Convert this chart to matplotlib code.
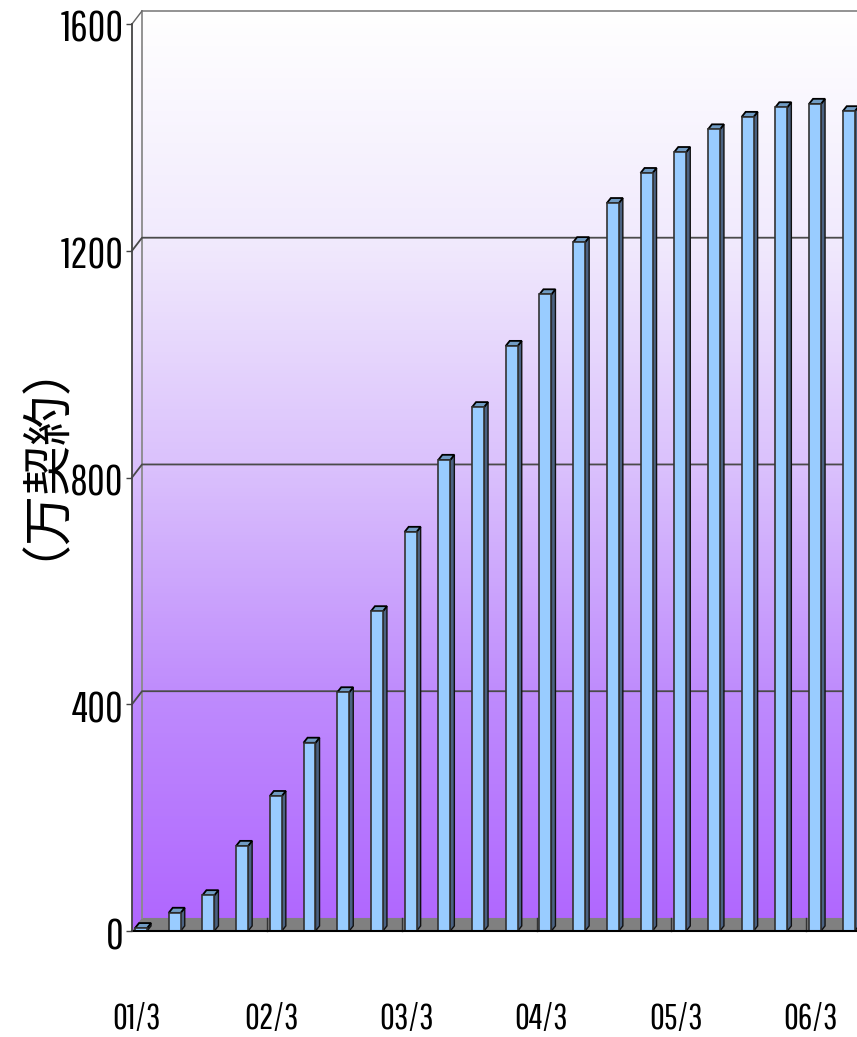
import numpy as np
import matplotlib
matplotlib.use("Agg")
import matplotlib.pyplot as plt
from matplotlib.colors import LinearSegmentedColormap
from matplotlib.patches import Polygon, Rectangle
import matplotlib.transforms as mtrans

# quarterly data, 01/3 .. 06/6
quarters = ["01/3", "01/6", "01/9", "01/12", "02/3", "02/6", "02/9", "02/12",
            "03/3", "03/6", "03/9", "03/12", "04/3", "04/6", "04/9", "04/12",
            "05/3", "05/6", "05/9", "05/12", "06/3", "06/6"]
contracts = [5, 32, 63, 150, 238, 332, 421, 564, 704, 831, 924, 1032,
             1123, 1215, 1284, 1337, 1374, 1414, 1436, 1453, 1459, 1446]
y_ticks = [0, 400, 800, 1200, 1600]
x_label_idx = [0, 4, 8, 12, 16, 20]
y_title = "（万契約）"

W, H = 857, 1037
fig = plt.figure(figsize=(W / 100, H / 100), dpi=100)

# front y-axis at x=132px, y=0 at 931px, 1600 at 24px
ax = fig.add_axes([132 / W, (H - 931) / H, (W - 132) / W, 907 / H])
x_front = -0.267
x_max = 21.246
ax.set_xlim(x_front, x_max)
ax.set_ylim(0, 1600)

# depth of the wall and of the bars (data units)
wall_dx, wall_dy = 0.297, 23
bar_dx, bar_dy = 0.12, 9
bar_w = 0.356
x_back = x_front + wall_dx
top = 1600 + wall_dy

# gradient background (white top -> purple bottom)
grad = LinearSegmentedColormap.from_list("bg", [
    (0.0, (176 / 255, 102 / 255, 255 / 255)),
    (0.25, (190 / 255, 138 / 255, 253 / 255)),
    (0.5, (218 / 255, 192 / 255, 252 / 255)),
    (0.75, (241 / 255, 234 / 255, 253 / 255)),
    (1.0, (1.0, 1.0, 1.0)),
])
img = ax.imshow(np.linspace(0, 1, 256).reshape(-1, 1), cmap=grad, aspect="auto",
                origin="lower", extent=(x_front, x_max + 1, 0, top),
                zorder=0, clip_on=False)
clip = Polygon([(x_front, 0), (x_front, 1600), (x_back, top), (x_max + 1, top),
                (x_max + 1, 0)], closed=True, transform=ax.transData,
               facecolor="none", edgecolor="none")
ax.add_patch(clip)
img.set_clip_path(clip)

# floor
ax.add_patch(Polygon([(x_front, 0), (x_back, wall_dy), (x_max + 1, wall_dy),
                      (x_max + 1, 0)], closed=True, facecolor="#808080",
                     edgecolor="none", zorder=1, clip_on=False))
for i in x_label_idx[1:]:
    ax.plot([i - 0.26, i - 0.26], [0, wall_dy], color="#333333", lw=1,
            zorder=1.5, clip_on=False)

# walls edges and grid
ax.plot([x_back, x_back], [wall_dy, top], color="#8a8a8a", lw=1.3, zorder=1, clip_on=False)
ax.plot([x_back, x_max + 1], [top, top], color="#8a8a8a", lw=1.3, zorder=1, clip_on=False)
ax.plot([x_front, x_back], [1600, top], color="#666666", lw=1, zorder=1, clip_on=False)
for v in y_ticks[1:-1]:
    ax.plot([x_front, x_back, x_max + 1], [v, v + wall_dy, v + wall_dy],
            color="#4a4a4a", lw=1.3, zorder=1, clip_on=False)

# bars
for i, v in enumerate(contracts):
    x0 = i - bar_w / 2
    x1 = i + bar_w / 2
    ax.add_patch(Polygon([(x1, 0), (x1 + bar_dx, bar_dy), (x1 + bar_dx, v + bar_dy), (x1, v)],
                         closed=True, facecolor="#4b6282", edgecolor="#111111",
                         lw=1, zorder=3, clip_on=False))
    ax.add_patch(Polygon([(x0, v), (x0 + bar_dx, v + bar_dy), (x1 + bar_dx, v + bar_dy), (x1, v)],
                         closed=True, facecolor="#709bc3", edgecolor="#000000",
                         lw=1.3, zorder=3, clip_on=False))
    ax.add_patch(Rectangle((x0, 0), bar_w, v, facecolor="#99ccff",
                           edgecolor="#333333", lw=1.2, zorder=3.5, clip_on=False))

# floor front edge
ax.plot([x_front, x_max + 1], [0, 0], color="#000000", lw=1.5, zorder=4, clip_on=False)

# axes
for s in ["top", "right", "bottom"]:
    ax.spines[s].set_visible(False)
ax.spines["left"].set_color("#444444")
ax.spines["left"].set_linewidth(1.3)
ax.spines["left"].set_zorder(5)

narrow = ["Pathway Gothic One", "Archivo Narrow", "DejaVu Sans"]
ax.set_yticks(y_ticks)
ax.set_yticklabels([str(v) for v in y_ticks], family=narrow, fontsize=31)
ax.tick_params(axis="y", length=4, width=1, color="#444444", pad=2)
shift = mtrans.ScaledTranslation(0, -2 / 100, fig.dpi_scale_trans)
for lab in ax.get_yticklabels():
    lab.set_transform(lab.get_transform() + shift)

ax.set_xticks([i - 0.12 for i in x_label_idx])
ax.set_xticklabels([quarters[i] for i in x_label_idx], family=narrow, fontsize=26)
ax.tick_params(axis="x", length=0, pad=51)

# the rotated CJK text box sits off its ink, so the anchor is shifted up/left
fig.text(17 / W, 1 - 435 / H, y_title, rotation=90, ha="center", va="center",
         fontsize=36, family="Noto Sans CJK JP")

fig.savefig("out.png", dpi=100)
